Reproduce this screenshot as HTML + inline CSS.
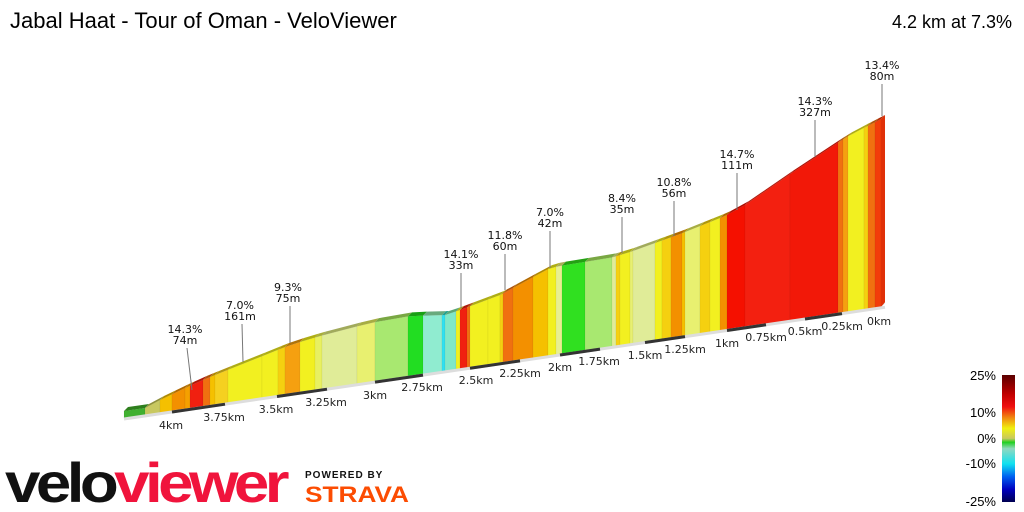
<!DOCTYPE html>
<html><head><meta charset="utf-8"><style>
html,body{margin:0;padding:0;background:#fff;}
svg{display:block;}
</style></head><body>
<svg id="s" width="1024" height="512" viewBox="0 0 1024 512" xmlns="http://www.w3.org/2000/svg">
<defs>
<linearGradient id="cb" x1="0" y1="0" x2="0" y2="1">
<stop offset="0" stop-color="#5a0000"/>
<stop offset="0.15" stop-color="#c00000"/>
<stop offset="0.25" stop-color="#f01010"/>
<stop offset="0.33" stop-color="#f08010"/>
<stop offset="0.42" stop-color="#f0f010"/>
<stop offset="0.5" stop-color="#c8c860"/>
<stop offset="0.53" stop-color="#20d020"/>
<stop offset="0.58" stop-color="#90d8c0"/>
<stop offset="0.7" stop-color="#10e0f0"/>
<stop offset="0.8" stop-color="#0060f0"/>
<stop offset="0.9" stop-color="#0000c0"/>
<stop offset="1" stop-color="#000050"/>
</linearGradient>
</defs>
<g id="prof"></g>
<g font-family="Liberation Sans, sans-serif" fill="#000">
<text x="10" y="28" font-size="22">Jabal Haat - Tour of Oman - VeloViewer</text>
<text x="1012" y="28" font-size="18" text-anchor="end">4.2 km at 7.3%</text>
</g>
<g font-family="DejaVu Sans, sans-serif" font-size="11" fill="#222" text-anchor="middle">
<text x="171" y="429">4km</text><text x="224" y="421">3.75km</text><text x="276" y="413">3.5km</text>
<text x="326" y="406">3.25km</text><text x="375" y="399">3km</text><text x="422" y="391">2.75km</text>
<text x="476" y="384">2.5km</text><text x="520" y="377">2.25km</text><text x="560" y="371">2km</text>
<text x="599" y="365">1.75km</text><text x="645" y="359">1.5km</text><text x="685" y="353">1.25km</text>
<text x="727" y="347">1km</text><text x="766" y="341">0.75km</text><text x="805" y="335">0.5km</text>
<text x="842" y="330">0.25km</text><text x="879" y="325">0km</text>
</g>
<g id="ann" font-family="DejaVu Sans, sans-serif" font-size="11" fill="#111" text-anchor="middle"></g>
<g font-family="Liberation Sans, sans-serif" font-size="13" fill="#000" text-anchor="end">
<text x="996" y="380">25%</text><text x="996" y="417">10%</text><text x="996" y="443">0%</text>
<text x="996" y="468">-10%</text><text x="996" y="506">-25%</text>
</g>
<rect x="1002" y="375" width="13" height="127" fill="url(#cb)"/>
<text x="5" y="502" font-family="Liberation Sans, sans-serif" font-weight="bold" font-size="56" letter-spacing="-4" textLength="280" lengthAdjust="spacingAndGlyphs"><tspan fill="#111">velo</tspan><tspan fill="#f0143c">viewer</tspan></text>
<text x="305" y="478" font-family="Liberation Sans, sans-serif" font-weight="bold" font-size="10" letter-spacing="1" fill="#111">POWERED BY</text>
<text x="305" y="502" font-family="Liberation Sans, sans-serif" font-weight="bold" font-size="22" fill="#fc4c02" textLength="104" lengthAdjust="spacingAndGlyphs">STRAVA</text>
</svg>
<script>
(function(){
var NS="http://www.w3.org/2000/svg";
function base(x){return 418-(x-124)*0.1468;}
var T=[[124,411],[145,408],[160,400],[185,388],[205,379],[240,365],[290,345],[320,336],[370,323],[410,316],[445,315],[460,310],[500,295],[550,268],[565,265],[610,258],[630,252],[680,234],[725,216],[745,205],[815,157],[850,135],[885,117]];
function topY(x){for(var i=0;i<T.length-1;i++){if(x<=T[i+1][0]){var a=T[i],b=T[i+1];return a[1]+(b[1]-a[1])*(x-a[0])/(b[0]-a[0]);}}return T[T.length-1][1];}
var S=[[124,145,"#40b030"],[145,160,"#c8c860"],[160,172,"#f5c000"],[172,185,"#f39000"],[185,190,"#f5a000"],[190,203,"#f02010"],[203,210,"#f07010"],[210,215,"#f5c000"],[215,228,"#f5d020"],[228,262,"#f2f020"],[262,278,"#f2f020"],[278,285,"#f5d010"],[285,300,"#f5a010"],[300,315,"#f2f020"],[315,322,"#e8f060"],[322,357,"#e0ec98"],[357,375,"#e8f070"],[375,408,"#a8e870"],[408,423,"#22dd22"],[423,442,"#90ecd0"],[442,445,"#30e0f0"],[445,456,"#80e8c8"],[456,460,"#f0f020"],[460,467,"#f02010"],[467,470,"#f07010"],[470,488,"#f2f020"],[488,500,"#f2f020"],[500,503,"#f5d010"],[503,513,"#f07010"],[513,533,"#f39000"],[533,548,"#f5c000"],[548,556,"#f2f020"],[556,562,"#e8f090"],[562,585,"#30e020"],[585,612,"#a8e870"],[612,616,"#e0ec98"],[616,620,"#f5d010"],[620,630,"#f2f020"],[630,633,"#e8f070"],[633,655,"#e0ec98"],[655,662,"#f2f020"],[662,671,"#f5d010"],[671,682,"#f39000"],[682,685,"#f5c000"],[685,700,"#e8f070"],[700,710,"#f5d010"],[710,720,"#f2f020"],[720,727,"#f39000"],[727,745,"#f51000"],[745,790,"#f32010"],[790,838,"#f21808"],[838,843,"#f07010"],[843,848,"#f5a010"],[848,864,"#f2f020"],[864,868,"#f5d010"],[868,875,"#f07010"],[875,881,"#f23c0a"]];
var g=document.getElementById("prof");
function poly(pts,fill,stroke){var p=document.createElementNS(NS,"polygon");p.setAttribute("points",pts.map(function(q){return q[0]+","+q[1]}).join(" "));p.setAttribute("fill",fill);if(stroke){p.setAttribute("stroke",stroke);p.setAttribute("stroke-width","0.5");}g.appendChild(p);}
function dark(c){var n=parseInt(c.slice(1),16),r=n>>16,gg=(n>>8)&255,b=n&255;return "rgb("+Math.round(r*.72)+","+Math.round(gg*.72)+","+Math.round(b*.6)+")";}
poly([[124,base(124)],[881,base(881)],[885,base(885)-3],[128,base(124)-3]],"#ccc");
S.forEach(function(s){var a=s[0],b=s[1];
poly([[a,topY(a)],[b,topY(b)],[b,base(b)],[a,base(a)]],s[2],"rgba(0,0,0,0.08)");
poly([[a,topY(a)],[b,topY(b)],[b+4,topY(b)-4],[a+4,topY(a)-4]],dark(s[2]));});
poly([[881,topY(881)],[885,topY(881)-4],[885,base(885)-4],[881,base(881)]],"#e03008");
function ln(x1,y1,x2,y2,c,w,par){var l=document.createElementNS(NS,"line");l.setAttribute("x1",x1);l.setAttribute("y1",y1);l.setAttribute("x2",x2);l.setAttribute("y2",y2);l.setAttribute("stroke",c);l.setAttribute("stroke-width",w);(par||g).appendChild(l);}
ln(124,base(124)+1,885,base(885)+1,"#ddd",3);
[[172,225],[277,327],[375,423],[470,520],[560,600],[645,685],[727,766],[805,842]].forEach(function(s){ln(s[0],base(s[0])+1,s[1],base(s[1])+1,"#333",3);});
var A=[[185,333,"14.3%","74m",192,390],[240,309,"7.0%","161m",243,362],[288,291,"9.3%","75m",290,343],[461,258,"14.1%","33m",461,308],[505,239,"11.8%","60m",505,290],[550,216,"7.0%","42m",550,268],[622,202,"8.4%","35m",622,253],[674,186,"10.8%","56m",674,236],[737,158,"14.7%","111m",737,210],[815,105,"14.3%","327m",815,157],[882,69,"13.4%","80m",882,116]];
var an=document.getElementById("ann");
A.forEach(function(a){var t=document.createElementNS(NS,"text");t.setAttribute("x",a[0]);t.setAttribute("y",a[1]);t.textContent=a[2];an.appendChild(t);
var t2=document.createElementNS(NS,"text");t2.setAttribute("x",a[0]);t2.setAttribute("y",a[1]+11);t2.textContent=a[3];an.appendChild(t2);
ln(a[0]+(a[4]>a[0]?2:0),a[1]+15,a[4],a[5],"#777",1,an);});
})();
</script>
</body></html>
